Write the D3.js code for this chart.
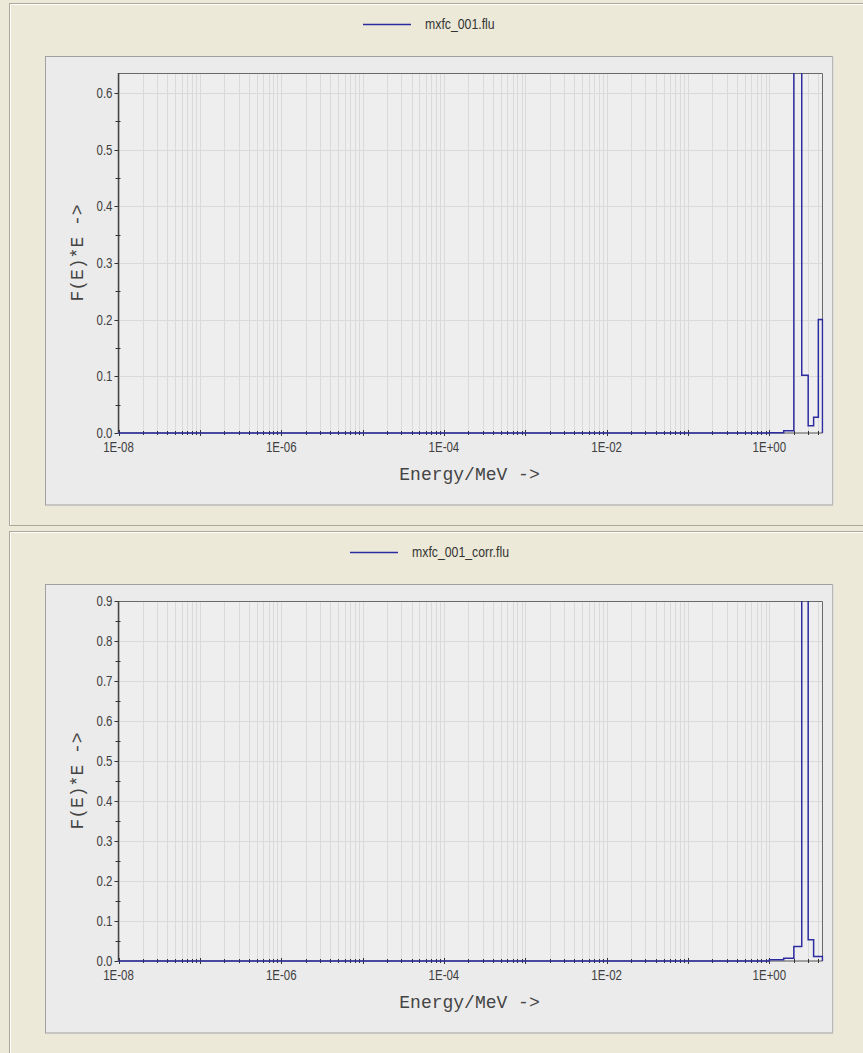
<!DOCTYPE html>
<html><head><meta charset="utf-8">
<script src="https://cdn.jsdelivr.net/npm/d3@7"></script>
<style>body{margin:0;background:#ece9d8;}svg{display:block;}</style>
</head><body>
<svg id="c" width="863" height="1053"></svg>
<script>
// ---- data ----
const energyEdges = [1e-8, 1.0, 1.5, 2.0, 2.5, 3.0, 3.5, 4.0, 4.5];          // MeV bin edges
const fluxRaw  = [0, 0.0005, 0.004, 1.6, 0.102, 0.013, 0.028, 0.2];         // mxfc_001.flu
const fluxCorr = [0, 0.003, 0.007, 0.036, 2.5, 0.053, 0.011, 0.011];        // mxfc_001_corr.flu
const seriesNames = ["mxfc_001.flu", "mxfc_001_corr.flu"];
const yMaxValues = [0.635, 0.9];
const xDomain = [1e-8, 4.5];
const xLabelExponents = [-8, -6, -4, -2, 0];
const xTitle = "Energy/MeV ->";
const yTitle = "F(E)*E ->";

// ---- layout ----
const W = 863, H = 1053, panelOffset = 528;
const plot = {l: 118.5, r: 822.5, t: 73, b: 433};
const legendCenter = 429;
const blue = "#2c2ca0";
const sans = "'Liberation Sans Narrow','Arial Narrow','Liberation Sans',Arial,sans-serif";
const mono = "'Liberation Mono','Courier New',monospace";
const squeeze = 0.82;

const svg = d3.select("#c");
svg.append("rect").attr("width", W).attr("height", H).attr("fill", "#ece9d8");

function narrowText(sel, x, y, txt, size, anchor, fill) {
  return sel.append("text")
    .attr("transform", `translate(${x},${y}) scale(${squeeze},1)`)
    .attr("text-anchor", anchor).attr("font-family", sans).attr("font-size", size)
    .attr("fill", fill).text(txt);
}

const series = [fluxRaw, fluxCorr];

series.forEach((vals, i) => {
  const g = svg.append("g").attr("transform", `translate(0,${i * panelOffset})`);
  // outer panel frame
  g.append("rect").attr("x", 9.5).attr("y", 3.5).attr("width", 880).attr("height", 522)
    .attr("fill", "#ece9d8").attr("stroke", "#aca899");
  g.append("line").attr("x1", 10.5).attr("x2", 870).attr("y1", 4.5).attr("y2", 4.5).attr("stroke", "#fff");
  g.append("line").attr("x1", 10.5).attr("x2", 10.5).attr("y1", 4.5).attr("y2", 525).attr("stroke", "#fff");
  // inner grey panel
  g.append("rect").attr("x", 45.5).attr("y", 56.5).attr("width", 787).attr("height", 448.5)
    .attr("fill", "#ebebeb").attr("stroke", "#a0a0a0");
  g.append("line").attr("x1", 833).attr("x2", 833).attr("y1", 56.5).attr("y2", 505).attr("stroke", "#d0d0d0");

  const x = d3.scaleLog().domain(xDomain).range([plot.l, plot.r]);
  const y = d3.scaleLinear().domain([0, yMaxValues[i]]).range([plot.b, plot.t]);

  // plot background
  g.append("rect").attr("x", plot.l).attr("y", plot.t).attr("width", plot.r - plot.l).attr("height", plot.b - plot.t)
    .attr("fill", "#eeeeee");

  const xt = x.ticks(10).filter(v => v >= xDomain[0] && v <= xDomain[1]);
  const isMajor = v => Math.abs(Math.log10(v) - Math.round(Math.log10(v))) < 1e-9;

  // grid
  g.append("g").selectAll("line").data(xt).join("line")
    .attr("x1", d => Math.round(x(d)) + 0.5).attr("x2", d => Math.round(x(d)) + 0.5)
    .attr("y1", plot.t).attr("y2", plot.b).attr("stroke", "#dadada").attr("stroke-width", 1);
  const yMajor = d3.range(0, yMaxValues[i] + 1e-9, 0.1);
  const yMinor = d3.range(0.05, yMaxValues[i], 0.1);
  g.append("g").selectAll("line").data(yMajor.slice(1)).join("line")
    .attr("x1", plot.l).attr("x2", plot.r)
    .attr("y1", d => Math.round(y(d)) + 0.5).attr("y2", d => Math.round(y(d)) + 0.5)
    .attr("stroke", "#dadada");

  // frame top/right
  g.append("path").attr("d", `M${plot.l},${plot.t + 0.5}H${plot.r}V${plot.b}`)
    .attr("fill", "none").attr("stroke", "#6a6a6a").attr("stroke-width", 1);
  // bottom axis line
  g.append("line").attr("x1", plot.l).attr("x2", plot.r).attr("y1", plot.b).attr("y2", plot.b)
    .attr("stroke", "#555");

  // x ticks
  g.append("g").selectAll("line").data(xt).join("line")
    .attr("x1", d => Math.round(x(d)) + 0.5).attr("x2", d => Math.round(x(d)) + 0.5)
    .attr("y1", d => plot.b - (isMajor(d) ? 3 : 2)).attr("y2", d => plot.b + (isMajor(d) ? 3 : 2))
    .attr("stroke", "#333").attr("stroke-width", 1);
  // x tick labels
  const fmtE = v => { const e = Math.round(Math.log10(v)); return "1E" + (e < 0 ? "-" : "+") + String(Math.abs(e)).padStart(2, "0"); };
  const xl = g.append("g");
  xLabelExponents.map(e => Math.pow(10, e)).forEach(v => narrowText(xl, x(v), plot.b + 19, fmtE(v), 14, "middle", "#404040"));

  // y axis line + ticks
  g.append("line").attr("x1", plot.l).attr("x2", plot.l).attr("y1", plot.t).attr("y2", plot.b)
    .attr("stroke", "#444").attr("stroke-width", 1.5);
  g.append("g").selectAll("line").data(yMajor).join("line")
    .attr("x1", plot.l - 4).attr("x2", plot.l)
    .attr("y1", d => Math.round(y(d)) + 0.5).attr("y2", d => Math.round(y(d)) + 0.5)
    .attr("stroke", "#333");
  g.append("g").selectAll("line").data(yMinor).join("line")
    .attr("x1", plot.l - 3).attr("x2", plot.l + 2)
    .attr("y1", d => Math.round(y(d)) + 0.5).attr("y2", d => Math.round(y(d)) + 0.5)
    .attr("stroke", "#333");
  const yl = g.append("g");
  const f1 = d3.format(".1f");
  yMajor.forEach(v => narrowText(yl, plot.l - 6, y(v) + 5, f1(v), 14, "end", "#404040"));

  // clip
  const cid = "clip" + i;
  g.append("clipPath").attr("id", cid).append("rect")
    .attr("x", plot.l - 1).attr("y", plot.t).attr("width", plot.r - plot.l + 2).attr("height", plot.b - plot.t + 2);

  // data step line
  const pts = vals.map((v, k) => [energyEdges[k], v]);
  pts.push([energyEdges[energyEdges.length - 1], vals[vals.length - 1]]);
  pts.push([energyEdges[energyEdges.length - 1], 0]);
  const line = d3.line().x(d => x(d[0])).y(d => y(d[1])).curve(d3.curveStepAfter);
  g.append("path").attr("clip-path", `url(#${cid})`).attr("d", line(pts))
    .attr("fill", "none").attr("stroke", blue).attr("stroke-width", 1.5);

  // axis titles
  g.append("text").attr("x", (plot.l + plot.r) / 2 - 1).attr("y", plot.b + 47).attr("text-anchor", "middle")
    .attr("font-family", mono).attr("font-size", 18).attr("fill", "#444").text(xTitle);
  g.append("text").attr("transform", `translate(78,${(plot.t + plot.b) / 2}) rotate(-90)`)
    .attr("text-anchor", "middle").attr("dominant-baseline", "central")
    .attr("font-family", mono).attr("font-size", 18).attr("fill", "#444").text(yTitle);

  // legend (centered)
  const lg = g.append("g");
  const t = narrowText(lg, 0, 29, seriesNames[i], 15, "start", "#333");
  const tw = t.node().getBBox().width * squeeze;
  const lineLen = 48, gap = 14;
  const x0 = Math.round(legendCenter - (lineLen + gap + tw) / 2);
  t.attr("transform", `translate(${x0 + lineLen + gap},29) scale(${squeeze},1)`);
  lg.append("line").attr("x1", x0).attr("x2", x0 + lineLen).attr("y1", 24.5).attr("y2", 24.5)
    .attr("stroke", blue).attr("stroke-width", 1.5);
});
</script>
</body></html>
